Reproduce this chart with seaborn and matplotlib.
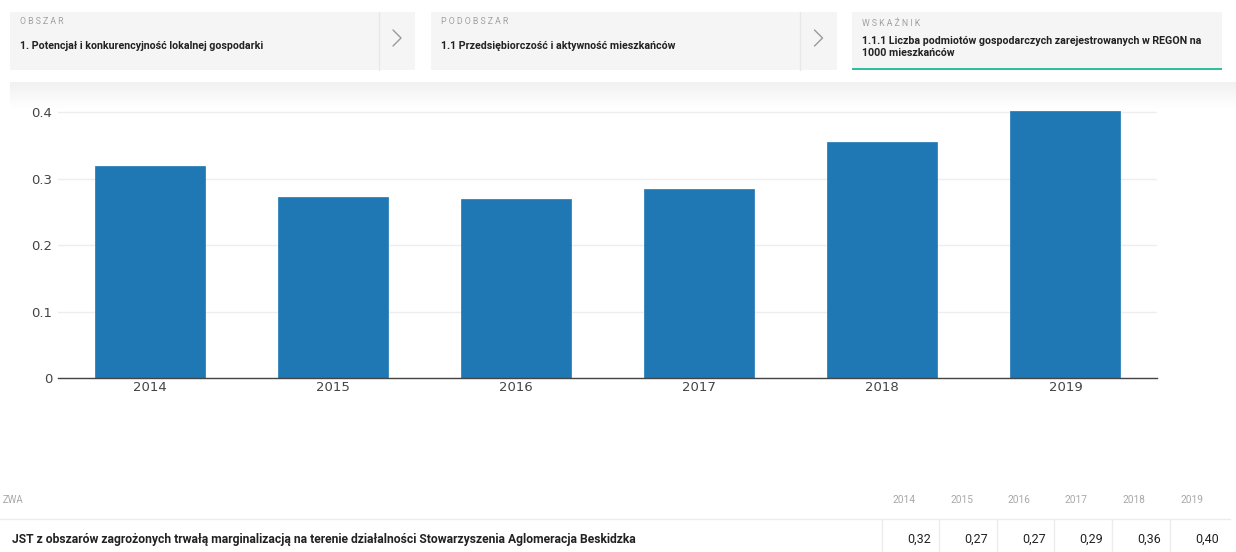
import matplotlib
matplotlib.use("Agg")
import matplotlib.pyplot as plt
import numpy as np
import pandas as pd
import seaborn as sns
from matplotlib.patches import Rectangle
from matplotlib.lines import Line2D

# ---------------- data ----------------
years = ["2014", "2015", "2016", "2017", "2018", "2019"]
values = [0.319, 0.272, 0.269, 0.285, 0.356, 0.402]
table_values = ["0,32", "0,27", "0,27", "0,29", "0,36", "0,40"]
yticks = [0, 0.1, 0.2, 0.3, 0.4]
ytick_labels = ["0", "0.1", "0.2", "0.3", "0.4"]

crumb_labels = ["OBSZAR", "PODOBSZAR", "WSKAŹNIK"]
crumb_titles = [
    "1. Potencjał i konkurencyjność lokalnej gospodarki",
    "1.1 Przedsiębiorczość i aktywność mieszkańców",
    "1.1.1 Liczba podmiotów gospodarczych zarejestrowanych w REGON na\n1000 mieszkańców",
]
table_name_header = "ZWA"
row_name = "JST z obszarów zagrożonych trwałą marginalizacją na terenie działalności Stowarzyszenia Aglomeracja Beskidzka"

# ---------------- setup ----------------
sns.set_theme(style="white")
plt.rcParams["font.family"] = ["DejaVu Sans"]
W, H = 1236, 552
fig = plt.figure(figsize=(W / 100, H / 100), dpi=100)
fig.patch.set_facecolor("white")

def fx(x):
    return x / W

def fy(y):
    return 1 - y / H

narrow = ["Roboto", "DejaVu Sans"]

# ---------------- header crumbs ----------------
boxes = [(10, 415, 379), (431, 837, 800), (852, 1222, None)]
for i, (x0, x1, div) in enumerate(boxes):
    fig.patches.append(Rectangle((fx(x0), fy(70)), fx(x1 - x0), (70 - 12) / H,
                                 transform=fig.transFigure, facecolor="#f5f5f5",
                                 edgecolor="none", zorder=0))
    if div is not None:
        fig.lines.append(Line2D([fx(div), fx(div)], [fy(12), fy(70)],
                                transform=fig.transFigure, color="#e8e8e8", lw=1))
        cx, cy = (div + x1) / 2, 38
        fig.lines.append(Line2D([fx(cx - 4), fx(cx + 4), fx(cx - 4)],
                                [fy(cy - 8), fy(cy), fy(cy + 8)],
                                transform=fig.transFigure, color="#9a9a9a", lw=1))
    if i < 2:
        fig.text(fx(x0 + 10), fy(22), " ".join(crumb_labels[i]),
                 fontsize=6.3, color="#a0a0a0", family=narrow, va="center", ha="left")
        fig.text(fx(x0 + 10), fy(46), crumb_titles[i], fontsize=7.7, color="#222222",
                 family=narrow, weight="bold", va="center", ha="left")
    else:
        fig.text(fx(x0 + 10), fy(24), " ".join(crumb_labels[i]),
                 fontsize=6.3, color="#a0a0a0", family=narrow, va="center", ha="left")
        fig.text(fx(x0 + 10), fy(47), crumb_titles[i], fontsize=7.7, color="#222222",
                 family=narrow, weight="bold", va="center", ha="left", linespacing=1.3)
# teal underline
fig.patches.append(Rectangle((fx(852), fy(70)), fx(1222 - 852), 2.5 / H,
                             transform=fig.transFigure, facecolor="#2fbf9f",
                             edgecolor="none", zorder=1))

# shadow band under header
sax = fig.add_axes([fx(10), fy(108), fx(1226), (108 - 82) / H], zorder=-1)
grad = np.linspace(0.945, 1.0, 50).reshape(-1, 1)
sax.imshow(np.dstack([grad, grad, grad]), aspect="auto", extent=[0, 1, 1, 0])
sax.set_axis_off()

# ---------------- chart ----------------
top_px, bot_px = 99, 378
ax = fig.add_axes([fx(58), fy(bot_px), fx(1157 - 58), (bot_px - top_px) / H], zorder=2)
ax.patch.set_alpha(0)
df = pd.DataFrame({"year": years, "value": values})
sns.barplot(data=df, x="year", y="value", color="#1f77b4", saturation=1,
            width=0.6, ax=ax, edgecolor="#1f77b4", linewidth=0.5)
ax.set_xlim(-0.5, len(years) - 0.5)
ax.set_ylim(0, 0.42)
ax.set_yticks(yticks)
ax.set_yticklabels(ytick_labels)
ax.grid(axis="y", color="#eeeeee", lw=1)
ax.set_axisbelow(True)
for s in ["top", "right", "left"]:
    ax.spines[s].set_visible(False)
ax.spines["bottom"].set_color("#444444")
ax.spines["bottom"].set_linewidth(1)
ax.tick_params(axis="both", length=0, labelsize=9.5, labelcolor="#444444")
ax.tick_params(axis="y", pad=4)
ax.tick_params(axis="x", pad=2)
ax.set_xlabel("")
ax.set_ylabel("")

# ---------------- table ----------------
fig.text(fx(3), fy(500), table_name_header, fontsize=7, color="#a8a8a8",
         family=narrow, va="center", ha="left")
col_centers = [904, 962, 1019, 1076, 1134, 1192]
col_seps = [882, 939, 997, 1054, 1112, 1170]
for yr, cx in zip(years, col_centers):
    fig.text(fx(cx), fy(500), yr, fontsize=7.3, color="#a8a8a8", family=narrow,
             va="center", ha="center")
fig.lines.append(Line2D([fx(0), fx(1230)], [fy(519), fy(519)],
                        transform=fig.transFigure, color="#ececec", lw=1))
for sx in col_seps:
    fig.lines.append(Line2D([fx(sx), fx(sx)], [fy(520), fy(552)],
                            transform=fig.transFigure, color="#ececec", lw=1))
fig.text(fx(12), fy(539), row_name, fontsize=8.7, color="#222222", family=narrow,
         weight="bold", va="center", ha="left")
for sx, v in zip(col_seps, table_values):
    fig.text(fx(sx + 49), fy(539), v, fontsize=9, color="#222222", family=narrow,
             va="center", ha="right")

fig.savefig("out.png", dpi=100, facecolor="white")
